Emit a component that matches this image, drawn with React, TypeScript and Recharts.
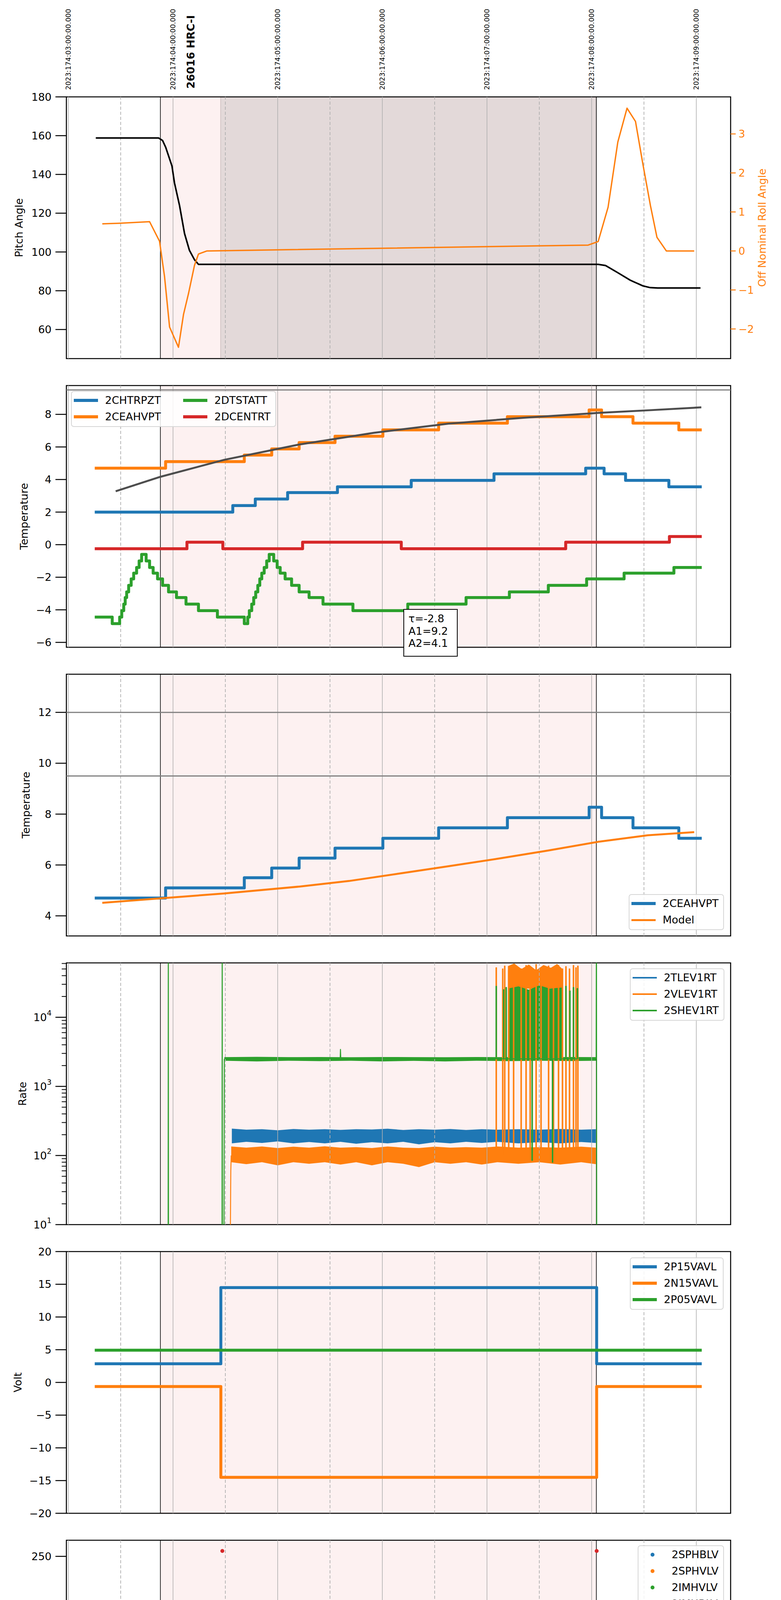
import React from 'react';
import {
  ComposedChart, Line, Area, Scatter, XAxis, YAxis, ReferenceLine, ReferenceArea,
} from 'recharts';

type P = [number, number];
type R = [number, number, number];

const FONT = 'DejaVu Sans';
const BLUE = '#1f77b4';
const ORANGE = '#ff7f0e';
const GREEN = '#2ca02c';
const RED = '#d62728';

// ---------- time axis (hours since 2023-06-22 23:00) ----------
const X0 = -0.019;
const X1 = 6.328;
const TOPS = [248, 987, 1726, 2465, 3204, 3943, 4682, 5421];
const PH = 670;
const HOUR_TICKS = [0, 1, 2, 3, 4, 5, 6];
const HALF_TICKS = [0.5, 1.5, 2.5, 3.5, 4.5, 5.5];
const HOUR_LABELS = ['23h', '00h', '01h', '02h', '03h', '04h', '05h'];
const HALF_LABEL = '30';
const TOP_LABELS = [
  '2023:174:03:00:00.000', '2023:174:04:00:00.000', '2023:174:05:00:00.000',
  '2023:174:06:00:00.000', '2023:174:07:00:00.000', '2023:174:08:00:00.000',
  '2023:174:09:00:00.000',
];
const X_TITLE = '2023-06-23 (174)';
const OBS_LABEL = '26016 HRC-I';
const OBS_LABEL_T = 1.17;
const SHADE_START = 0.879;
const SHADE_END = 5.045;
const DARK_START = 1.455;

// ---------- panel 1 ----------
const P1_PITCH: P[] = [[0.262, 158.8], [0.862, 158.8], [0.9, 157.5], [0.93, 154], [0.99, 144.3], [1.014, 135.6], [1.062, 124], [1.11, 109.5], [1.157, 100.8], [1.205, 96], [1.243, 93.6], [5.062, 93.6], [5.133, 93], [5.25, 89.3], [5.37, 85.4], [5.49, 82.5], [5.56, 81.6], [5.63, 81.4], [6.04, 81.4]];
const P1_ROLL: P[] = [[0.324, 0.695], [0.49, 0.71], [0.776, 0.75], [0.871, 0.25], [0.919, -0.66], [0.967, -1.95], [1.052, -2.47], [1.1, -1.63], [1.148, -1.09], [1.205, -0.37], [1.243, -0.08], [1.324, 0.0], [4.967, 0.15], [5.062, 0.24], [5.157, 1.12], [5.25, 2.79], [5.338, 3.66], [5.419, 3.32], [5.49, 2.22], [5.562, 1.16], [5.624, 0.35], [5.714, 0.0], [5.98, 0.0]];
const P1_LEFT_TICKS = [60, 80, 100, 120, 140, 160, 180];
const P1_RIGHT_TICKS = [-2, -1, 0, 1, 2, 3];

// ---------- panel 2 ----------
const P2_CHTRPZT: P[] = [[0.252, 2.0], [1.571, 2.4], [1.786, 2.8], [2.095, 3.2], [2.571, 3.55], [3.276, 3.95], [4.067, 4.35], [4.943, 4.7], [5.119, 4.35], [5.324, 3.95], [5.738, 3.55], [6.052, 3.55]];
const CEAHVPT: P[] = [[0.252, 4.7], [0.929, 5.1], [1.681, 5.5], [1.943, 5.88], [2.205, 6.27], [2.548, 6.66], [3.005, 7.05], [3.538, 7.46], [4.195, 7.86], [4.976, 8.27], [5.095, 7.86], [5.395, 7.46], [5.833, 7.05], [6.052, 7.05]];
const P2_FIT: P[] = [[0.452, 3.28], [0.881, 4.17], [1.49, 5.21], [2.205, 6.15], [2.919, 6.87], [3.633, 7.43], [4.348, 7.79], [5.062, 8.09], [5.538, 8.25], [6.048, 8.43]];
const P2_DCENTRT: P[] = [[0.252, -0.25], [1.133, 0.15], [1.476, -0.25], [2.238, 0.15], [3.181, -0.25], [4.752, 0.15], [5.743, 0.5], [6.052, 0.5]];
const P2_DTSTATT: P[] = [[0.252, -4.45], [0.419, -4.85], [0.49, -4.45], [0.51, -4.05], [0.529, -3.65], [0.543, -3.25], [0.557, -2.9], [0.576, -2.5], [0.6, -2.1], [0.624, -1.75], [0.652, -1.4], [0.676, -1.0], [0.7, -0.6], [0.743, -1.0], [0.776, -1.4], [0.81, -1.75], [0.852, -2.1], [0.9, -2.5], [0.957, -2.9], [1.033, -3.25], [1.124, -3.65], [1.243, -4.05], [1.424, -4.45], [1.681, -4.85], [1.714, -4.45], [1.729, -4.05], [1.752, -3.65], [1.771, -3.25], [1.79, -2.9], [1.81, -2.5], [1.829, -2.1], [1.848, -1.75], [1.871, -1.4], [1.895, -1.0], [1.919, -0.6], [1.962, -1.0], [1.995, -1.4], [2.024, -1.75], [2.071, -2.1], [2.133, -2.5], [2.205, -2.9], [2.3, -3.25], [2.433, -3.65], [2.719, -4.05], [3.243, -3.65], [3.8, -3.25], [4.214, -2.9], [4.586, -2.5], [4.952, -2.1], [5.31, -1.75], [5.786, -1.4], [6.052, -1.4]];
const P2_TICKS = [-6, -4, -2, 0, 2, 4, 6, 8];
const P2_LIMITS = [9.5];
const FIT_TEXT = ['τ=-2.8', 'A1=9.2', 'A2=4.1'];

// ---------- panel 3 ----------
const P3_MODEL: P[] = [[0.324, 4.51], [0.881, 4.69], [1.49, 4.88], [2.205, 5.15], [2.681, 5.37], [3.157, 5.66], [3.633, 5.95], [4.11, 6.25], [4.586, 6.57], [5.062, 6.91], [5.538, 7.17], [5.98, 7.29]];
const P3_TICKS = [4, 6, 8, 10, 12];
const P3_LIMITS = [12, 9.5];

// ---------- panel 4 (log) ----------
const P4_TICKS = [10, 20, 30, 40, 50, 60, 70, 80, 90, 100, 200, 300, 400, 500, 600, 700, 800, 900, 1000, 2000, 3000, 4000, 5000, 6000, 7000, 8000, 9000, 10000, 20000, 30000, 40000, 50000, 60000];
const P4_BLUE_BAND: R[] = [[1.562, 150, 245], [1.7, 158, 236], [1.85, 152, 240], [2.0, 160, 232], [2.15, 150, 242], [2.3, 157, 236], [2.45, 150, 240], [2.6, 158, 235], [2.75, 148, 240], [2.9, 156, 238], [3.05, 150, 244], [3.2, 158, 234], [3.35, 145, 240], [3.5, 156, 236], [3.65, 150, 242], [3.8, 158, 234], [3.95, 152, 240], [4.1, 158, 236], [4.3, 150, 240], [4.5, 156, 236], [4.7, 150, 242], [4.9, 157, 236], [5.04, 152, 240]];
const P4_ORANGE_BAND: R[] = [[1.556, 80, 135], [1.7, 75, 130], [1.85, 80, 135], [2.0, 72, 128], [2.15, 80, 134], [2.3, 76, 130], [2.45, 80, 136], [2.6, 74, 130], [2.75, 80, 132], [2.9, 72, 128], [3.05, 80, 135], [3.2, 76, 130], [3.35, 68, 128], [3.5, 80, 134], [3.65, 76, 130], [3.8, 80, 132], [3.95, 74, 130], [4.1, 80, 135], [4.3, 76, 130], [4.5, 80, 132], [4.7, 74, 130], [4.9, 80, 134], [5.04, 75, 130]];
const P4_ORANGE_START: P[] = [[1.546, 3], [1.552, 60], [1.556, 100]];
const P4_ORANGE_SPIKES: P[] = [[4.05, 100], [4.086, 52000], [4.091, 100], [4.148, 50000], [4.153, 100], [4.167, 55000], [4.172, 100], [4.205, 48000], [4.21, 100], [4.252, 57000], [4.257, 100], [4.324, 50000], [4.329, 100], [4.371, 56000], [4.376, 100], [4.41, 52000], [4.415, 100], [4.467, 58000], [4.472, 100], [4.514, 50000], [4.519, 100], [4.586, 55000], [4.591, 100], [4.633, 52000], [4.638, 100], [4.681, 56000], [4.686, 100], [4.719, 50000], [4.724, 100], [4.752, 54000], [4.757, 100], [4.786, 50000], [4.791, 100], [4.824, 56000], [4.829, 100], [4.848, 52000], [4.853, 100], [4.866, 55000], [4.871, 100]];
const P4_ORANGE_TOP: R[] = [[4.2, 26000, 55000], [4.26, 26000, 60000], [4.33, 26000, 50000], [4.4, 26000, 58000], [4.47, 26000, 48000], [4.54, 26000, 57000], [4.61, 26000, 52000], [4.67, 26000, 59000], [4.72, 26000, 50000]];
const P4_GREEN_BAND: R[] = [[1.49, 2350, 2650], [1.8, 2300, 2680], [2.1, 2350, 2650], [2.4, 2320, 2660], [2.7, 2350, 2640], [3.0, 2300, 2660], [3.3, 2340, 2650], [3.6, 2300, 2640], [3.9, 2350, 2660], [4.2, 2320, 2650], [4.5, 2350, 2640], [4.8, 2330, 2660], [5.045, 2350, 2650]];
const P4_GREEN_EDGE: P[] = [[0.252, 1], [0.953, 1], [0.955, 1e6], [0.957, 1], [1.468, 1], [1.47, 1e6], [1.472, 1], [1.486, 1], [1.49, 2500]];
const P4_GREEN_END: P[] = [[5.043, 2500], [5.046, 1e6], [5.049, 1]];
const P4_GREEN_BUMP: P[] = [[2.597, 2500], [2.6, 3430], [2.603, 2500]];
const P4_GREEN_SPIKES: P[] = [[4.05, 2500], [4.086, 28000], [4.091, 2500], [4.157, 25000], [4.162, 2500], [4.181, 27000], [4.186, 2500], [4.429, 85], [4.434, 2500], [4.624, 80], [4.629, 2500], [4.752, 28000], [4.757, 2500], [4.79, 24000], [4.795, 2500], [4.824, 27000], [4.829, 2500], [4.862, 26000], [4.867, 2500]];
const P4_GREEN_TOP: R[] = [[4.2, 2500, 26000], [4.3, 2500, 28000], [4.4, 2500, 25000], [4.5, 2500, 29000], [4.6, 2500, 26000], [4.72, 2500, 27000]];

// ---------- panel 5 ----------
const P5_P15: P[] = [[0.252, 2.85], [1.457, 14.5], [5.048, 2.85], [6.052, 2.85]];
const P5_N15: P[] = [[0.252, -0.62], [1.457, -14.5], [5.048, -0.62], [6.052, -0.62]];
const P5_P05: P[] = [[0.252, 4.92], [6.052, 4.92]];
const P5_TICKS = [-20, -15, -10, -5, 0, 5, 10, 15, 20];

// ---------- panel 6 ----------
const P6_SPHBLV: P[] = [];
const P6_SPHVLV: P[] = [];
const P6_IMHVLV_BAND: P[] = [[1.562, 80], [5.048, 80]];
const P6_IMHVLV_PTS: P[] = [[1.5, 99.5], [1.51, 95], [1.529, 90.5], [1.538, 86], [1.548, 83], [4.19, 127], [4.252, 127], [4.3, 127], [4.348, 127], [4.395, 127], [4.452, 127]];
const P6_IMHBLV_BAND: P[] = [[1.562, 86], [5.048, 86]];
const P6_IMHBLV_PTS: P[] = [[1.471, 255.5], [5.048, 255.5], [1.51, 127], [1.512, 125], [1.505, 119], [1.514, 106], [1.519, 104], [1.529, 101], [1.538, 97], [1.548, 93], [1.552, 89], [4.19, 79.5], [4.243, 79.5], [4.3, 79.5], [4.348, 79.5], [4.405, 79.5], [4.452, 79.5], [4.514, 79.5]];
const P6_TICKS = [0, 50, 100, 150, 200, 250];

// ---------- panel 7 ----------
const P7_SPINATM: P[] = [[1.476, 2.78], [1.648, 2.33], [1.705, 2.78], [1.729, 3.27], [1.743, 3.7], [1.762, 4.16], [1.781, 4.64], [1.795, 5.08], [1.814, 5.53], [1.833, 6.01], [1.862, 6.49], [1.881, 6.97], [1.905, 7.49], [1.957, 6.97], [1.986, 6.49], [2.024, 6.01], [2.062, 5.53], [2.11, 5.08], [2.167, 4.64], [2.238, 4.16], [2.333, 3.7], [2.476, 3.27], [2.729, 2.78], [4.086, -5], [4.092, 2.78], [4.148, -5], [4.154, 2.78], [4.186, -5], [4.192, 2.78], [4.757, -5], [4.763, 2.78], [4.8, -5], [4.806, 2.78], [4.848, -5], [4.854, 2.78], [5.038, 2.78]];
const P7_SPINATM_BURST: R[] = [[4.243, -5, 2.78], [4.729, -5, 2.78]];
const P7_SPHVATM: P[] = [[1.457, 14.04], [1.462, 14.48], [2.133, 14.73], [2.49, 15.0], [2.7, 15.3], [2.71, 15.0], [2.857, 15.3], [3.262, 15.59], [3.62, 15.85], [3.63, 15.59], [3.719, 15.85], [4.086, 10.54], [4.092, 15.85], [4.148, 10.54], [4.154, 15.85], [4.167, 10.54], [4.173, 16.06], [4.81, 10.54], [4.816, 16.06], [4.848, 10.54], [4.854, 16.06], [4.871, 16.4], [5.024, 16.4]];
const P7_SPHVATM_BURST: R[] = [[4.229, 10.54, 16.06], [4.8, 10.54, 16.06]];
const P7_IMINATM: P[] = [[1.476, -0.2], [1.957, 0.25], [3.038, 0.66], [3.1, 0.25], [3.11, 0.66], [4.086, 2.92], [4.092, 0.66], [4.167, 2.92], [4.173, 0.66], [4.252, 1.07], [4.757, 2.92], [4.763, 1.07], [4.8, 2.92], [4.806, 1.07], [4.848, 2.92], [4.854, 1.07], [5.024, 1.07]];
const P7_IMINATM_BURST_A: R[] = [[4.229, 1.07, 2.92], [4.548, 1.07, 2.92]];
const P7_IMINATM_BURST_B: R[] = [[4.576, 1.07, 2.92], [4.72, 1.07, 2.92]];
const P7_IMHVATM: P[] = [[1.455, -5], [1.457, 13.9], [1.667, 14.18], [1.762, 14.48], [1.871, 14.73], [1.981, 15.03], [2.1, 15.3], [2.252, 15.58], [2.386, 15.85], [2.567, 16.14], [2.776, 16.4], [3.029, 16.69], [3.338, 16.96], [3.69, 17.24], [4.086, 15.76], [4.092, 17.24], [4.133, 17.54], [4.18, 15.76], [4.186, 17.54], [4.657, 17.86], [4.67, 16.06], [4.676, 17.86], [4.71, 16.06], [4.716, 17.86], [4.745, 16.06], [4.751, 17.86], [4.78, 16.06], [4.786, 17.86], [4.82, 16.06], [4.826, 17.86], [4.867, 16.06], [4.873, 17.86], [5.048, 30], [5.052, -10]];
const P7_IMHVATM_BURST: R[] = [[4.2, 16.06, 17.54], [4.657, 16.06, 17.54]];
const P7_TICKS = [0, 2.5, 5, 7.5, 10, 12.5, 15, 17.5];

// ---------- panel 8 ----------
const P8_FHTRMZT: P[] = [[0.252, -9.22], [0.786, -8.79], [1.714, -8.4], [1.871, -8.0], [2.024, -7.6], [2.167, -7.19], [2.314, -6.79], [2.476, -6.39], [2.576, -5.55], [2.582, -6.39], [2.624, -5.99], [2.681, -6.39], [2.687, -5.99], [2.79, -5.59], [2.976, -5.2], [3.157, -4.8], [3.338, -4.42], [3.524, -4.03], [3.729, -3.65], [3.929, -3.27], [4.133, -2.88], [4.348, -2.5], [4.586, -2.13], [4.824, -1.75], [5.062, -1.37], [5.31, -1.75], [5.571, -2.13], [5.81, -2.5], [6.052, -2.5]];
const P8_FRADPYT: P[] = [[0.252, -10.9], [0.81, -10.47], [1.3, -10.9], [1.743, -10.47], [1.933, -10.04], [2.1, -9.63], [2.262, -9.23], [2.443, -8.81], [2.619, -8.4], [2.81, -8.0], [3.005, -7.6], [3.205, -7.19], [3.419, -6.79], [3.633, -6.39], [3.862, -5.99], [4.095, -5.59], [4.338, -5.2], [4.595, -4.82], [4.857, -4.43], [5.357, -4.82], [5.571, -5.2], [5.8, -5.59], [6.052, -5.59]];
const P8_FEPRATM: P[] = [[1.49, -7.46], [1.514, -7.02], [1.552, -6.59], [1.61, -6.2], [1.667, -5.78], [1.743, -5.4], [1.838, -5.01], [1.957, -4.61], [2.086, -4.22], [2.214, -3.84], [2.357, -3.44], [2.5, -3.03], [2.667, -2.64], [2.838, -2.24], [3.024, -1.83], [3.205, -1.42], [3.405, -1.03], [3.619, -0.61], [3.848, -0.2], [4.086, -4.67], [4.092, 0.27], [4.148, -4.67], [4.154, 0.27], [4.167, -4.67], [4.173, 0.27], [4.871, 1.55], [5.024, 1.55]];
const P8_FEPRATM_BURST: R[] = [[4.205, -4.67, 0.27], [4.35, -4.67, 0.74], [4.72, -4.67, 1.55], [4.871, -4.67, 1.55]];
const P8_FE00ATM: P[] = [[1.455, -15], [1.457, -6.7], [1.614, -5.9], [1.62, -6.7], [1.657, -6.29], [1.705, -6.8], [1.711, -6.29], [1.738, -5.95], [1.838, -5.58], [1.857, -6.4], [1.863, -5.58], [1.895, -6.4], [1.901, -5.58], [1.929, -6.4], [1.935, -5.58], [1.952, -5.23], [2.0, -6.4], [2.006, -5.23], [2.024, -4.85], [2.03, -5.23], [2.048, -4.87], [2.181, -4.52], [2.276, -4.18], [2.395, -3.82], [2.524, -3.48], [2.6, -4.2], [2.606, -3.48], [2.667, -3.14], [2.776, -2.77], [2.786, -2.1], [2.792, -2.77], [2.862, -3.5], [2.868, -2.77], [2.919, -2.44], [3.071, -2.11], [3.143, -1.4], [3.149, -2.11], [3.205, -1.77], [3.338, -2.1], [3.344, -1.77], [3.348, -1.46], [3.443, -1.6], [3.449, -1.46], [3.505, -0.75], [3.511, -1.46], [3.514, -1.12], [3.657, -0.78], [3.667, -1.5], [3.673, -0.78], [3.848, -0.48], [3.99, -0.15], [4.086, 3], [4.092, -0.15], [4.12, 3], [4.126, 0.12], [4.18, -0.8], [4.186, 0.12], [4.4, 0.5], [4.433, -20], [4.443, 0.5], [4.55, 0.75], [4.624, -20], [4.634, 0.75], [4.733, 1.1], [4.76, 3], [4.765, 1.1], [4.8, 3], [4.805, 1.1], [4.83, 1.47], [4.86, 3], [4.865, 1.47], [4.9, 3], [4.905, 1.47], [4.95, 3], [4.955, 1.47], [5.048, 3], [5.052, -20]];
const P8_FE00ATM_BURST: R[] = [[4.157, 0.12, 3], [4.4, 0.5, 3], [4.55, 0.75, 3], [4.733, 0.75, 3]];
const P8_TICKS = [-10, -8, -6, -4, -2, 0];

// ---------- helpers ----------
const pts = (a: P[]) => a.map(([t, v]) => ({ t, v }));
const rng = (a: R[]) => a.map(([t, lo, hi]) => ({ t, r: [lo, hi] }));
const fmt = (v: number) => String(v).replace('-', '\u2212');
const tickStyle = { fontSize: 27, fontFamily: FONT, fill: '#000' };
const tickLineStyle = { stroke: '#000', strokeWidth: 2.5 };

function yLabel(text: string, x: number, color = '#000') {
  return (props: any) => {
    const vb = props.viewBox || {};
    const cy = (vb.y ?? 0) + (vb.height ?? 0) / 2;
    return (
      <text x={x} y={cy} transform={`rotate(-90 ${x} ${cy})`} textAnchor="middle"
        dominantBaseline="central" fontSize={27} fontFamily={FONT} fill={color}>{text}</text>
    );
  };
}

const topTick = (props: any) => {
  const { x, y, payload } = props;
  const v = payload.value;
  const i = HOUR_TICKS.indexOf(v);
  if (i >= 0) {
    return (
      <text x={x} y={y} transform={`rotate(-90 ${x} ${y})`} textAnchor="start"
        dominantBaseline="central" fontSize={17.5} fontFamily={FONT} fill="#000">{TOP_LABELS[i]}</text>
    );
  }
  const yy = y - 3;
  return (
    <text x={x} y={yy} transform={`rotate(-90 ${x} ${yy})`} textAnchor="start"
      dominantBaseline="central" fontSize={27} fontWeight="bold" fontFamily={FONT} fill="#000">{OBS_LABEL}</text>
  );
};

const bottomTickP8 = (props: any) => {
  const { x, y, payload } = props;
  const v = payload.value;
  const i = HOUR_TICKS.indexOf(v);
  if (i >= 0) {
    return (
      <g>
        <line x1={x} x2={x} y1={y} y2={y + 29} stroke="#000" strokeWidth={2.5} />
        <text x={x} y={y + 51} textAnchor="middle" dominantBaseline="central" fontSize={27} fontFamily={FONT} fill="#000">{HOUR_LABELS[i]}</text>
      </g>
    );
  }
  return (
    <g>
      <line x1={x} x2={x} y1={y} y2={y - 7} stroke="#000" strokeWidth={2} />
      <text x={x} y={y + 15} textAnchor="middle" dominantBaseline="central" fontSize={18} fontFamily={FONT} fill="#000">{HALF_LABEL}</text>
    </g>
  );
};

const xTitle = (props: any) => {
  const vb = props.viewBox || {};
  const cx = (vb.x ?? 0) + (vb.width ?? 0) / 2;
  const cy = (vb.y ?? 0) + 88;
  return <text x={cx} y={cy} textAnchor="middle" dominantBaseline="central" fontSize={33} fontFamily={FONT} fill="#000">{X_TITLE}</text>;
};

const logTick = (props: any) => {
  const { y, payload } = props;
  const v = payload.value;
  const e = Math.log10(v);
  const ei = Math.round(e);
  const major = Math.abs(e - ei) < 1e-6;
  const ax = 170;
  return (
    <g>
      <line x1={ax} x2={ax - (major ? 28 : 12)} y1={y} y2={y} stroke="#000" strokeWidth={major ? 2.5 : 2} />
      {major && (
        <text x={ax - 38} y={y} textAnchor="end" dominantBaseline="central" fontSize={27} fontFamily={FONT} fill="#000">
          10<tspan dy={-11} fontSize={19}>{ei}</tspan>
        </text>
      )}
    </g>
  );
};

function bg(dark = false) {
  const els: any[] = [
    <ReferenceArea key="pink" x1={SHADE_START} x2={SHADE_END} fill="#fdf1f1" fillOpacity={1} stroke="none" />,
  ];
  if (dark) {
    els.push(<ReferenceArea key="dark" x1={DARK_START} x2={SHADE_END} fill="#e3d9d9" fillOpacity={1} stroke="#cbbcbc" strokeWidth={1.5} />);
  }
  HOUR_TICKS.forEach((h) => els.push(<ReferenceLine key={'h' + h} x={h} stroke="#b0b0b0" strokeWidth={1.6} />));
  HALF_TICKS.forEach((h) => els.push(<ReferenceLine key={'hh' + h} x={h} stroke="#b0b0b0" strokeWidth={1.8} strokeDasharray="8 5" />));
  els.push(<ReferenceLine key="s1" x={SHADE_START} stroke="#000" strokeWidth={1.6} />);
  els.push(<ReferenceLine key="s2" x={SHADE_END} stroke="#000" strokeWidth={1.6} />);
  return els;
}

const border = () => (
  <ReferenceArea key="border" x1={X0} x2={X1} fill="none" fillOpacity={0} stroke="#000" strokeWidth={2.6} ifOverflow="visible" />
);

function stepLine(key: string, data: P[], color: string, w = 7.5, extra: any = {}) {
  return (
    <Line key={key} data={pts(data)} dataKey="v" type="stepAfter" stroke={color} strokeWidth={w}
      strokeLinejoin="round" dot={false} activeDot={false} isAnimationActive={false} legendType="none" {...extra} />
  );
}
function plainLine(key: string, data: P[], color: string, w: number, extra: any = {}) {
  return (
    <Line key={key} data={pts(data)} dataKey="v" type="linear" stroke={color} strokeWidth={w}
      strokeLinejoin="round" dot={false} activeDot={false} isAnimationActive={false} legendType="none" {...extra} />
  );
}
function band(key: string, data: R[], color: string, type: any = 'linear') {
  return (
    <Area key={key} data={rng(data)} dataKey="r" type={type} stroke="none" fill={color} fillOpacity={1}
      dot={false} activeDot={false} isAnimationActive={false} legendType="none" />
  );
}

const bottomAxis = (
  <XAxis type="number" dataKey="t" domain={[X0, X1]} allowDataOverflow ticks={HOUR_TICKS} interval={0}
    height={40} tick={false} tickLine={tickLineStyle} tickSize={28} axisLine={false} />
);

function leftAxis(domain: number[], ticks: number[], label: string, lx: number, fmtFn: any = fmt, extra: any = {}) {
  return (
    <YAxis width={170} type="number" dataKey="v" domain={domain} ticks={ticks} allowDataOverflow interval={0}
      tick={tickStyle} tickLine={tickLineStyle} tickSize={28} tickMargin={10} axisLine={false}
      tickFormatter={fmtFn} label={yLabel(label, lx)} {...extra} />
  );
}

type LItem = { label: string; color: string; lw?: number; dot?: boolean };
function LegendBox({ left, top, items, cols = 1, colW = 0 }: { left: number; top: number; items: LItem[]; cols?: number; colW?: number }) {
  const rows = Math.ceil(items.length / cols);
  return (
    <div style={{
      position: 'absolute', left, top, border: '2px solid #d6d6d6', borderRadius: 7,
      background: 'rgba(255,255,255,0.85)', padding: '1px 12px 3px 5px', fontFamily: FONT, fontSize: 27,
      display: 'grid', gridAutoFlow: 'column', gridTemplateRows: `repeat(${rows}, 42px)`,
      gridTemplateColumns: cols > 1 ? `${colW}px auto` : 'auto', zIndex: 5,
    }}>
      {items.map((it) => (
        <div key={it.label} style={{ display: 'flex', alignItems: 'center', height: 42, whiteSpace: 'nowrap' }}>
          <div style={{ width: 62, height: 42, display: 'flex', justifyContent: 'center', alignItems: 'center', marginRight: 18 }}>
            {it.dot
              ? <div style={{ width: 10, height: 10, borderRadius: 5, background: it.color }} />
              : <div style={{ width: 62, height: it.lw ?? 7.5, background: it.color }} />}
          </div>
          <span style={{ color: '#000', lineHeight: '42px' }}>{it.label}</span>
        </div>
      ))}
    </div>
  );
}

const dotShape = (color: string) => (p: any) => <circle cx={p.cx} cy={p.cy} r={5} fill={color} />;

const W = 2000;
const MR = 129;
const chartBox = (top: number): React.CSSProperties => ({ position: 'absolute', left: 0, top });

export default function App() {
  return (
    <div style={{ position: 'relative', margin: -8, width: 2000, height: 6200, background: '#fff', fontFamily: FONT, overflow: 'hidden' }}>
      {/* Panel 1 */}
      <div style={chartBox(0)}>
        <ComposedChart width={W} height={248 + PH + 40} margin={{ top: 0, right: 0, bottom: 0, left: 0 }}>
          <XAxis xAxisId="top" orientation="top" type="number" dataKey="t" domain={[X0, X1]} allowDataOverflow
            ticks={[...HOUR_TICKS, OBS_LABEL_T].sort((a, b) => a - b)} interval={0} height={248}
            tick={topTick} tickLine={false} axisLine={false} tickSize={0} tickMargin={18} />
          {bottomAxis}
          {leftAxis([45, 180], P1_LEFT_TICKS, 'Pitch Angle', 48)}
          <YAxis yAxisId="right" orientation="right" width={129} type="number" dataKey="v" domain={[-2.76, 3.95]}
            ticks={P1_RIGHT_TICKS} allowDataOverflow interval={0}
            tick={{ fontSize: 27, fontFamily: FONT, fill: ORANGE }} tickLine={{ stroke: ORANGE, strokeWidth: 2.5 }}
            tickSize={13} tickMargin={7} axisLine={false} tickFormatter={fmt}
            label={yLabel('Off Nominal Roll Angle', 1951, ORANGE)} />
          {bg(true)}
          {plainLine('pitch', P1_PITCH, '#000', 4)}
          {plainLine('roll', P1_ROLL, ORANGE, 3.5, { yAxisId: 'right' })}
          {border()}
        </ComposedChart>
      </div>

      {/* Panel 2 */}
      <div style={chartBox(TOPS[1] - 20)}>
        <ComposedChart width={W} height={20 + PH + 40} margin={{ top: 20, right: MR, bottom: 0, left: 0 }}>
          {bottomAxis}
          {leftAxis([-6.3, 9.77], P2_TICKS, 'Temperature', 61)}
          {bg()}
          {P2_LIMITS.map((y) => <ReferenceLine key={'l' + y} y={y} stroke="#808080" strokeWidth={3} />)}
          {stepLine('chtr', P2_CHTRPZT, BLUE)}
          {stepLine('ceah', CEAHVPT, ORANGE)}
          {stepLine('dtst', P2_DTSTATT, GREEN)}
          {stepLine('dcen', P2_DCENTRT, RED)}
          {plainLine('fit', P2_FIT, '#4d4d4d', 5)}
          {border()}
        </ComposedChart>
      </div>
      <LegendBox left={182} top={1001} cols={2} colW={280} items={[
        { label: '2CHTRPZT', color: BLUE }, { label: '2CEAHVPT', color: ORANGE },
        { label: '2DTSTATT', color: GREEN }, { label: '2DCENTRT', color: RED },
      ]} />
      <div style={{
        position: 'absolute', left: 1033, top: 1559, width: 124, height: 111, border: '2px solid #000',
        background: '#fff', fontFamily: FONT, fontSize: 27, lineHeight: '31.5px', padding: '7px 0 0 11px',
        boxSizing: 'content-box', zIndex: 6,
      }}>
        {FIT_TEXT.map((s) => <div key={s}>{s}</div>)}
      </div>

      {/* Panel 3 */}
      <div style={chartBox(TOPS[2] - 20)}>
        <ComposedChart width={W} height={20 + PH + 40} margin={{ top: 20, right: MR, bottom: 0, left: 0 }}>
          {bottomAxis}
          {leftAxis([3.21, 13.5], P3_TICKS, 'Temperature', 66)}
          {bg()}
          {P3_LIMITS.map((y) => <ReferenceLine key={'l' + y} y={y} stroke="#808080" strokeWidth={3} />)}
          {stepLine('ceah3', CEAHVPT, BLUE)}
          {plainLine('model', P3_MODEL, ORANGE, 5)}
          {border()}
        </ComposedChart>
      </div>
      <LegendBox left={1610} top={2289} items={[
        { label: '2CEAHVPT', color: BLUE }, { label: 'Model', color: ORANGE, lw: 5 },
      ]} />

      {/* Panel 4 */}
      <div style={chartBox(TOPS[3] - 20)}>
        <ComposedChart width={W} height={20 + PH + 40} margin={{ top: 20, right: MR, bottom: 0, left: 0 }}>
          {bottomAxis}
          <YAxis width={170} type="number" dataKey="v" scale="log" domain={[10, 61200]} ticks={P4_TICKS}
            allowDataOverflow interval={0} tick={logTick} tickLine={false} tickSize={0} tickMargin={0}
            axisLine={false} label={yLabel('Rate', 57)} />
          {bg()}
          {band('bb', P4_BLUE_BAND, BLUE)}
          {band('ob', P4_ORANGE_BAND, ORANGE)}
          {plainLine('os', P4_ORANGE_START, ORANGE, 2.5)}
          {stepLine('osp', P4_ORANGE_SPIKES, ORANGE, 2.5)}
          {band('ot', P4_ORANGE_TOP, ORANGE)}
          {band('gb', P4_GREEN_BAND, GREEN)}
          {plainLine('ge', P4_GREEN_EDGE, GREEN, 2.5)}
          {plainLine('gend', P4_GREEN_END, GREEN, 2.5)}
          {plainLine('gbump', P4_GREEN_BUMP, GREEN, 2.5)}
          {stepLine('gsp', P4_GREEN_SPIKES, GREEN, 2.5)}
          {band('gt', P4_GREEN_TOP, GREEN)}
          {border()}
        </ComposedChart>
      </div>
      <LegendBox left={1613} top={2479} items={[
        { label: '2TLEV1RT', color: BLUE, lw: 3.5 }, { label: '2VLEV1RT', color: ORANGE, lw: 3.5 },
        { label: '2SHEV1RT', color: GREEN, lw: 3.5 },
      ]} />

      {/* Panel 5 */}
      <div style={chartBox(TOPS[4] - 20)}>
        <ComposedChart width={W} height={20 + PH + 40} margin={{ top: 20, right: MR, bottom: 0, left: 0 }}>
          {bottomAxis}
          {leftAxis([-20, 20], P5_TICKS, 'Volt', 45)}
          {bg()}
          {stepLine('p15', P5_P15, BLUE)}
          {stepLine('n15', P5_N15, ORANGE)}
          {stepLine('p05', P5_P05, GREEN)}
          {border()}
        </ComposedChart>
      </div>
      <LegendBox left={1613} top={3219} items={[
        { label: '2P15VAVL', color: BLUE }, { label: '2N15VAVL', color: ORANGE }, { label: '2P05VAVL', color: GREEN },
      ]} />

      {/* Panel 6 */}
      <div style={chartBox(TOPS[5] - 20)}>
        <ComposedChart width={W} height={20 + PH + 40} margin={{ top: 20, right: MR, bottom: 0, left: 0 }}>
          {bottomAxis}
          {leftAxis([0, 266.4], P6_TICKS, 'HV Monitor', 51)}
          {bg()}
          <Scatter data={pts(P6_SPHBLV)} dataKey="v" fill={BLUE} shape={dotShape(BLUE)} isAnimationActive={false} legendType="none" />
          <Scatter data={pts(P6_SPHVLV)} dataKey="v" fill={ORANGE} shape={dotShape(ORANGE)} isAnimationActive={false} legendType="none" />
          {plainLine('gband', P6_IMHVLV_BAND, GREEN, 10, { strokeLinecap: 'round' })}
          <Scatter data={pts(P6_IMHVLV_PTS)} dataKey="v" fill={GREEN} shape={dotShape(GREEN)} isAnimationActive={false} legendType="none" />
          {plainLine('rband', P6_IMHBLV_BAND, RED, 10, { strokeLinecap: 'round' })}
          <Scatter data={pts(P6_IMHBLV_PTS)} dataKey="v" fill={RED} shape={dotShape(RED)} isAnimationActive={false} legendType="none" />
          {border()}
        </ComposedChart>
      </div>
      <LegendBox left={1633} top={3956} items={[
        { label: '2SPHBLV', color: BLUE, dot: true }, { label: '2SPHVLV', color: ORANGE, dot: true },
        { label: '2IMHVLV', color: GREEN, dot: true }, { label: '2IMHBLV', color: RED, dot: true },
      ]} />

      {/* Panel 7 */}
      <div style={chartBox(TOPS[6] - 20)}>
        <ComposedChart width={W} height={20 + PH + 40} margin={{ top: 20, right: MR, bottom: 0, left: 0 }}>
          {bottomAxis}
          {leftAxis([-1.26, 18.75], P7_TICKS, 'Detector Temp', 42, (v: number) => v.toFixed(1))}
          {bg()}
          {band('sb', P7_SPINATM_BURST, BLUE)}
          {stepLine('spin', P7_SPINATM, BLUE)}
          {band('ob7', P7_SPHVATM_BURST, ORANGE)}
          {stepLine('sphv', P7_SPHVATM, ORANGE)}
          {band('gba', P7_IMINATM_BURST_A, GREEN)}
          {band('gbb', P7_IMINATM_BURST_B, GREEN)}
          {stepLine('imin', P7_IMINATM, GREEN)}
          {band('rb7', P7_IMHVATM_BURST, RED)}
          {stepLine('imhv', P7_IMHVATM, RED)}
          {border()}
        </ComposedChart>
      </div>
      <LegendBox left={1610} top={4694} items={[
        { label: '2SPINATM', color: BLUE }, { label: '2SPHVATM', color: ORANGE },
        { label: '2IMINATM', color: GREEN }, { label: '2IMHVATM', color: RED },
      ]} />

      {/* Panel 8 */}
      <div style={chartBox(TOPS[7] - 20)}>
        <ComposedChart width={W} height={20 + PH + 109} margin={{ top: 20, right: MR, bottom: 0, left: 0 }}>
          <XAxis type="number" dataKey="t" domain={[X0, X1]} allowDataOverflow
            ticks={[...HOUR_TICKS, ...HALF_TICKS].sort((a, b) => a - b)} interval={0} height={109}
            tick={bottomTickP8} tickLine={false} tickSize={0} tickMargin={0} axisLine={false} label={xTitle} />
          {leftAxis([-10.71, 1.72], P8_TICKS, 'FEA Temp', 45)}
          {bg()}
          {stepLine('fhtr', P8_FHTRMZT, BLUE)}
          {stepLine('frad', P8_FRADPYT, ORANGE)}
          {band('gb8', P8_FEPRATM_BURST, GREEN, 'stepAfter')}
          {stepLine('fepr', P8_FEPRATM, GREEN)}
          {band('rb8', P8_FE00ATM_BURST, RED, 'stepAfter')}
          {stepLine('fe00', P8_FE00ATM, RED)}
          {border()}
        </ComposedChart>
      </div>
      <LegendBox left={1607} top={5900} items={[
        { label: '2FHTRMZT', color: BLUE }, { label: '2FRADPYT', color: ORANGE },
        { label: '2FEPRATM', color: GREEN }, { label: '2FE00ATM', color: RED },
      ]} />
    </div>
  );
}
